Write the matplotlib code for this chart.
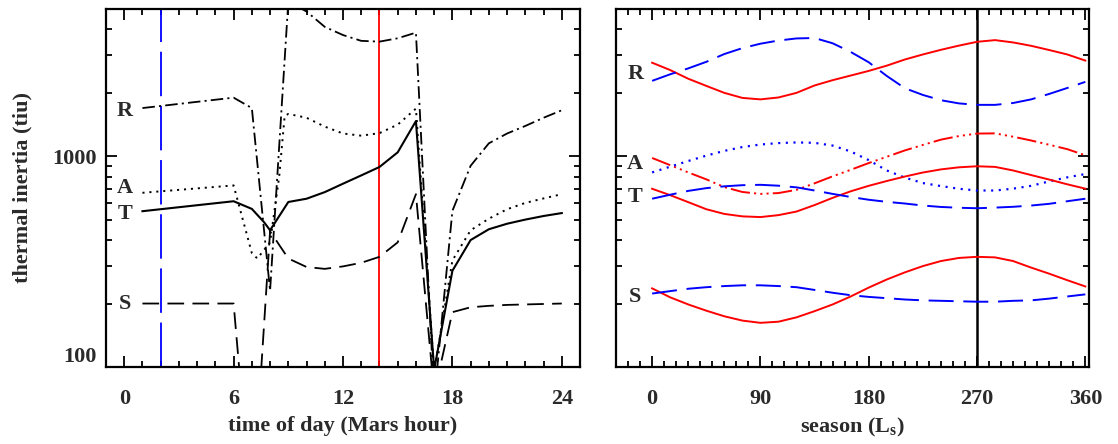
import matplotlib
matplotlib.use('Agg')
import matplotlib.pyplot as plt
from matplotlib.ticker import FixedLocator, NullFormatter, MultipleLocator

# ---- left panel: diurnal curves (time of day in Mars hours) ----
R_hour = [1, 6, 7, 8, 9, 10, 11, 12, 13, 14, 15, 16, 17, 18, 19, 20, 21, 22, 23, 24]
R_ti = [1690, 1893, 1690, 230, 5400, 4850, 4100, 3750, 3520, 3490, 3620, 3850,
        70, 550, 900, 1150, 1280, 1390, 1520, 1650]

A_hour = [1, 6, 7, 7.3, 8, 8.5, 8.8, 9, 10, 11, 12, 13, 14, 15, 16, 17,
          18, 19, 20, 21, 22, 23, 24]
A_ti = [670, 726, 347, 327, 390, 800, 1550, 1585, 1520, 1380, 1280, 1250, 1285,
        1410, 1680, 95, 320, 445, 505, 560, 600, 630, 660]

T_hour = [1, 6, 7, 7.67, 8, 9, 10, 11, 12, 13, 14, 15, 16, 17, 18, 19, 20,
          21, 22, 23, 24]
T_ti = [548, 611, 562, 486, 445, 606, 628, 675, 740, 810, 888, 1042, 1466, 97,
        286, 400, 450, 478, 500, 520, 537]

S_hour = [1, 6, 7, 8, 9, 10, 11, 12, 13, 14, 15, 16, 17, 18, 19, 20, 21, 22, 23, 24]
S_ti = [200, 200, 20, 440, 327, 298, 292, 300, 312, 333, 390, 660, 75, 182,
        192, 195, 197, 198, 199, 200]

blue_hour = 2
red_hour = 14

# ---- right panel: seasonal curves (Ls, every 15 deg) ----
Ls = list(range(0, 361, 15))
R_red = [2773, 2559, 2328, 2153, 1995, 1888, 1858, 1897, 1995, 2163, 2291, 2410, 2535,
         2685, 2871, 3034, 3192, 3342, 3483, 3548, 3459, 3334, 3184, 3034, 2838]
R_blue = [2275, 2443, 2606, 2799, 3048, 3251, 3412, 3532, 3614, 3631, 3428, 3119, 2786,
          2399, 2099, 1950, 1841, 1778, 1750, 1750, 1786, 1858, 1972, 2104, 2249]
A_red = [980, 906, 837, 776, 713, 676, 662, 668, 692, 743, 802, 861, 927,
         993, 1064, 1130, 1197, 1245, 1279, 1282, 1236, 1186, 1132, 1079, 1009]
A_blue = [837, 891, 948, 1005, 1059, 1104, 1135, 1153, 1161, 1156, 1122, 1052, 957,
          855, 791, 745, 721, 700, 687, 687, 701, 723, 759, 793, 822]
T_red = [700, 653, 605, 560, 532, 518, 514, 525, 546, 586, 634, 681, 723,
         762, 800, 836, 865, 885, 895, 889, 855, 813, 774, 735, 701]
T_blue = [628, 656, 684, 705, 719, 728, 731, 724, 711, 687, 662, 640, 621,
          607, 596, 583, 574, 569, 566, 570, 575, 583, 594, 611, 628]
S_red = [236, 214, 198, 185, 174, 166, 162, 164, 172, 184, 198, 216, 238,
         260, 281, 301, 318, 329, 333, 331, 318, 296, 277, 258, 241]
S_blue = [223, 229, 235, 239, 242, 244, 244, 242, 239, 232, 225, 219, 215,
          212, 209, 207, 206, 205, 204, 204, 206, 207, 211, 216, 221]
season_mark = 270

letters = ['R', 'A', 'T', 'S']
left_letter_y = [1640, 705, 532, 200]
right_letter_y = [2450, 918, 638, 215]

plt.rcParams['font.family'] = ['Liberation Serif', 'DejaVu Serif']
plt.rcParams['font.weight'] = 'bold'
plt.rcParams['axes.labelweight'] = 'bold'
plt.rcParams['mathtext.fontset'] = 'custom'
plt.rcParams['mathtext.rm'] = 'Liberation Serif:bold'
plt.rcParams['mathtext.it'] = 'Liberation Serif:bold'
plt.rcParams['lines.scale_dashes'] = False

txt = '#2a2a2a'
red = '#ff0000'
blue = '#0000ff'
fs = 16

fig = plt.figure(figsize=(11.18, 4.44), dpi=100)
ax1 = fig.add_axes([0.0948, 0.1734, 0.424, 0.807])
ax2 = fig.add_axes([0.551, 0.1734, 0.423, 0.807])

# left panel
ax1.axvline(blue_hour, color=blue, lw=1.3, linestyle=(0, (32, 7)))
ax1.axvline(red_hour, color=red, lw=1.3)
ax1.plot(R_hour, R_ti, color='k', lw=1.3, linestyle=(0, (9, 3, 1.5, 3)))
ax1.plot(A_hour, A_ti, color='k', lw=1.4, linestyle=(0, (1.5, 3.5)))
ax1.plot(T_hour, T_ti, color='k', lw=1.5)
ax1.plot(S_hour, S_ti, color='k', lw=1.3, linestyle=(0, (12, 6)))
ax1.set_xlim(-1, 25)
ax1.set_xticks([0, 6, 12, 18, 24])
ax1.xaxis.set_minor_locator(MultipleLocator(1))
ax1.set_xlabel('time of day (Mars hour)', fontsize=fs, color=txt, labelpad=5)
ax1.set_ylabel('thermal inertia (tiu)', fontsize=fs, color=txt, labelpad=14)
for lab, yv in zip(letters, left_letter_y):
    ax1.text(0.05, yv, lab, fontsize=fs, color=txt, ha='center', va='center')

# right panel
ax2.axvline(season_mark, color='k', lw=1.8)
ax2.plot(Ls, R_red, color=red, lw=1.4)
ax2.plot(Ls, R_blue, color=blue, lw=1.4, linestyle=(0, (18, 7)))
ax2.plot(Ls, A_red, color=red, lw=1.4, linestyle=(0, (14, 3, 1.5, 3, 1.5, 3, 1.5, 3)))
ax2.plot(Ls, A_blue, color=blue, lw=1.6, linestyle=(0, (1.5, 4)))
ax2.plot(Ls, T_red, color=red, lw=1.4)
ax2.plot(Ls, T_blue, color=blue, lw=1.4, linestyle=(0, (18, 7)))
ax2.plot(Ls, S_red, color=red, lw=1.4)
ax2.plot(Ls, S_blue, color=blue, lw=1.4, linestyle=(0, (18, 7)))
ax2.set_xlim(-30, 363)
ax2.set_xticks([0, 90, 180, 270, 360])
ax2.xaxis.set_minor_locator(MultipleLocator(10))
ax2.set_xlabel(r'season (L$_\mathrm{s}$)', fontsize=fs, color=txt, labelpad=5)
for lab, yv in zip(letters, right_letter_y):
    ax2.text(-14, yv, lab, fontsize=fs, color=txt, ha='center', va='center')

minor_y = [200, 300, 400, 500, 600, 700, 800, 900, 2000, 3000, 4000]
for ax in (ax1, ax2):
    ax.set_yscale('log')
    ax.set_ylim(100, 5000)
    ax.yaxis.set_major_locator(FixedLocator([100, 1000]))
    ax.yaxis.set_minor_locator(FixedLocator(minor_y))
    ax.yaxis.set_minor_formatter(NullFormatter())
    for s in ax.spines.values():
        s.set_linewidth(1.6)
    ax.tick_params(which='both', direction='in', top=True, right=True,
                   labelsize=fs, labelcolor=txt, width=1.3)
    ax.tick_params(which='major', length=8)
    ax.tick_params(which='minor', length=4)
    ax.tick_params(axis='x', pad=16)

ax1.set_yticklabels(['100', '1000'])
ax1.tick_params(axis='y', pad=7)
ax1.get_yticklabels()[0].set_va('bottom')
ax2.yaxis.set_major_formatter(NullFormatter())

fig.savefig('out.png', dpi=100)
